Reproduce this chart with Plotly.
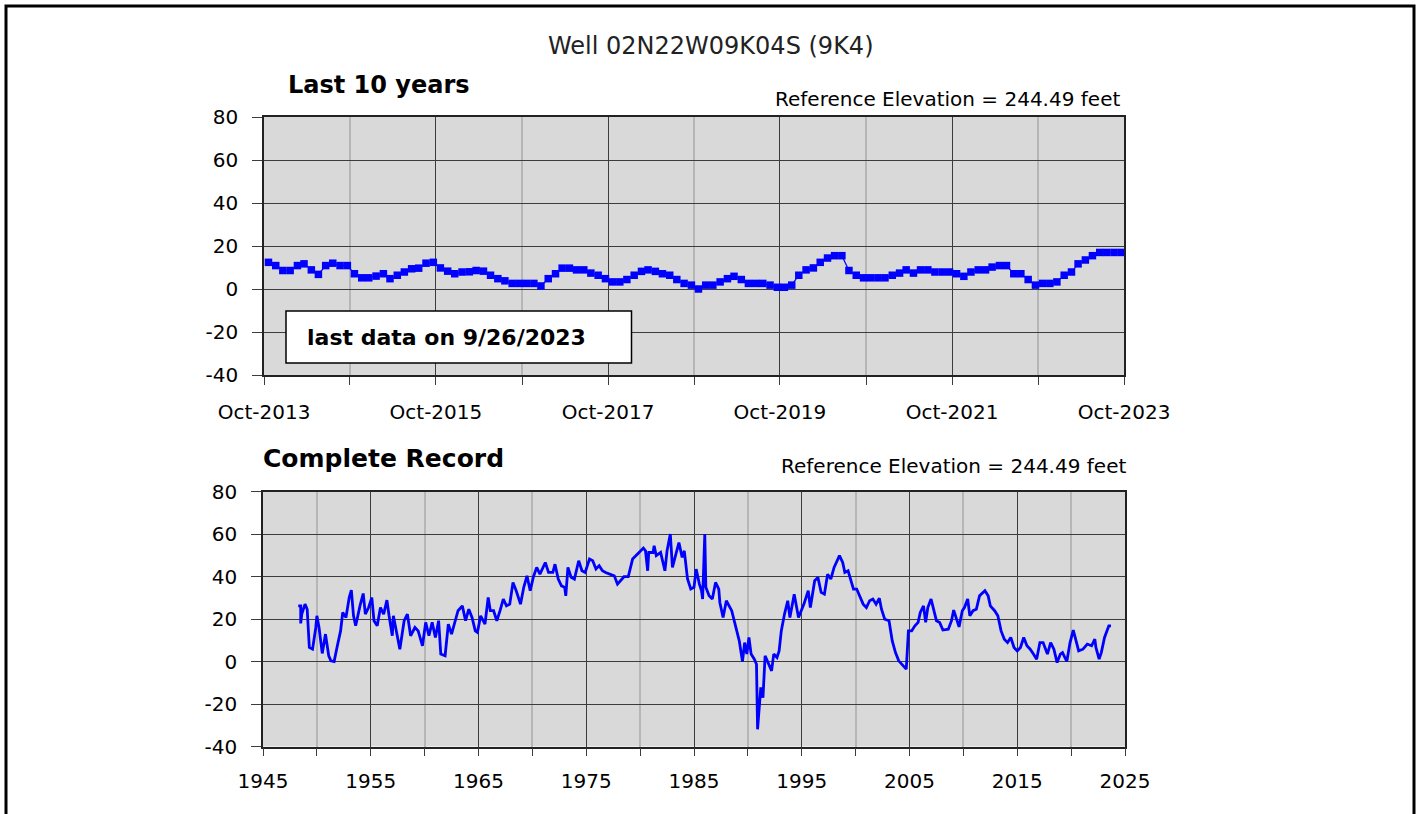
import plotly.graph_objects as go
import pandas as pd

# ---------------- data ----------------
# Last 10 years: monthly measurements Oct-2013 .. Sep-2023 (feet)
recent_dates = pd.date_range("2013-10-01", periods=120, freq="MS") + pd.Timedelta(days=19)
recent_vals = [
    12.4, 10.9, 8.6, 8.6, 10.9, 11.7, 8.9, 6.8, 10.9, 12.0, 10.9, 10.9,
    7.1, 5.2, 5.2, 6.0, 7.1, 4.8, 6.4, 7.9, 9.4, 9.7, 12.0, 12.4,
    9.8, 8.3, 7.1, 7.9, 8.0, 8.6, 8.3, 6.4, 4.8, 3.8, 2.6, 2.6,
    2.6, 2.6, 1.4, 4.8, 7.1, 9.7, 9.7, 8.9, 8.9, 7.4, 6.4, 4.8,
    3.3, 3.3, 4.4, 6.4, 8.2, 8.9, 8.2, 7.1, 6.4, 4.4, 2.6, 1.8,
    0.0, 1.8, 1.8, 3.3, 4.8, 5.9, 4.4, 2.6, 2.6, 2.6, 1.8, 0.8,
    0.8, 1.8, 6.4, 8.9, 9.8, 12.4, 14.4, 15.5, 15.5, 8.6, 6.4, 5.2,
    5.2, 5.2, 5.2, 6.4, 7.4, 8.9, 7.4, 8.9, 8.9, 7.9, 7.9, 7.9,
    7.1, 5.9, 7.9, 8.9, 8.9, 10.2, 10.9, 10.9, 7.1, 7.1, 4.4, 1.8,
    2.6, 2.6, 3.3, 6.4, 7.9, 11.7, 13.5, 15.5, 17.0, 17.0, 17.0, 17.0,
]

# Complete record (decimal year, feet)
record_years = [
    1948.27, 1948.5, 1948.5, 1948.6, 1948.9, 1949.1, 1949.3, 1949.6, 1949.9, 1950.0,
    1950.2, 1950.5, 1950.8, 1951.1, 1951.3, 1951.6, 1951.9, 1952.2, 1952.4, 1952.7,
    1953.0, 1953.2, 1953.4, 1953.6, 1954.0, 1954.3, 1954.5, 1954.8, 1955.1, 1955.3,
    1955.6, 1955.9, 1956.2, 1956.5, 1956.7, 1957.0, 1957.1, 1957.4, 1957.7, 1958.1,
    1958.4, 1958.7, 1959.1, 1959.4, 1959.8, 1960.1, 1960.4, 1960.7, 1961.0, 1961.3,
    1961.5, 1961.9, 1962.2, 1962.5, 1962.8, 1963.1, 1963.5, 1963.8, 1964.1, 1964.4,
    1964.7, 1964.9, 1965.2, 1965.6, 1965.9, 1966.1, 1966.4, 1966.7, 1967.0, 1967.3,
    1967.6, 1967.9, 1968.2, 1968.5, 1968.9, 1969.2, 1969.5, 1969.8, 1970.1, 1970.4,
    1970.7, 1971.2, 1971.5, 1971.9, 1972.1, 1972.4, 1972.7, 1973.0, 1973.1, 1973.3,
    1973.6, 1973.9, 1974.3, 1974.6, 1974.9, 1975.3, 1975.6, 1975.9, 1976.2, 1976.5,
    1976.8, 1977.3, 1977.6, 1977.9, 1978.2, 1978.5, 1978.9, 1979.0, 1979.3, 1979.9,
    1980.3, 1980.5, 1980.7, 1980.8, 1981.2, 1981.3, 1981.5, 1981.9, 1982.3, 1982.5,
    1982.8, 1983.0, 1983.3, 1983.6, 1983.9, 1984.1, 1984.4, 1984.7, 1985.0, 1985.2,
    1985.5, 1985.7, 1985.8, 1986.0, 1986.1, 1986.4, 1986.7, 1987.0, 1987.3, 1987.4,
    1987.7, 1988.0, 1988.5, 1988.8, 1989.2, 1989.5, 1989.7, 1989.9, 1990.1, 1990.3,
    1990.6, 1990.8, 1990.9, 1991.2, 1991.4, 1991.6, 1991.9, 1992.2, 1992.4, 1992.7,
    1992.9, 1993.1, 1993.4, 1993.7, 1993.9, 1994.3, 1994.7, 1995.2, 1995.6, 1995.8,
    1996.2, 1996.5, 1996.8, 1997.1,
    1997.4, 1997.7, 1998.0, 1998.5, 1998.8, 1999.0, 1999.3, 1999.5, 1999.8, 2000.1,
    2000.4, 2000.7, 2001.0, 2001.3, 2001.6, 2001.9, 2002.2, 2002.4, 2002.7, 2003.1,
    2003.4, 2003.7, 2004.0, 2004.4, 2004.7, 2004.9, 2005.2, 2005.5, 2005.8, 2006.0,
    2006.3, 2006.5, 2006.7, 2007.0, 2007.3, 2007.5, 2007.8, 2008.1, 2008.6, 2008.9,
    2009.1, 2009.3, 2009.6, 2009.9, 2010.1, 2010.4, 2010.6, 2010.9, 2011.2, 2011.5,
    2011.8, 2012.0, 2012.3, 2012.5, 2012.9, 2013.2, 2013.5, 2013.8, 2014.1, 2014.4,
    2014.7, 2015.0, 2015.3, 2015.6, 2015.9, 2016.2, 2016.5, 2016.8, 2017.1, 2017.4,
    2017.8, 2018.1, 2018.4, 2018.7, 2019.0, 2019.2, 2019.6, 2019.9, 2020.2, 2020.4,
    2020.7, 2021.1, 2021.5, 2021.9, 2022.2, 2022.3, 2022.6, 2022.8, 2023.1, 2023.5,
    2023.7,
]
record_vals = [
    26.2, 26.2, 17.9, 22.3, 27.0, 24.6, 6.6, 5.8, 16.0, 21.5,
    16.0, 3.8, 12.9, 2.7, 0.3, 0.0, 7.4, 14.4, 23.1, 20.7,
    30.1, 33.6, 21.5, 16.8, 26.2, 32.0, 22.3, 25.4, 30.1, 19.2,
    16.8, 25.4, 22.3, 28.9, 21.5, 12.1, 21.5, 14.4, 5.8, 19.2,
    22.3, 12.1, 16.0, 14.4, 7.4, 18.4, 12.1, 18.4, 11.3, 19.2,
    3.5, 2.7, 17.6, 12.9, 18.4, 23.9, 26.2, 19.2, 24.6, 20.7,
    14.4, 13.7, 21.5, 17.6, 30.1, 23.9, 23.9, 19.2, 23.9, 29.4,
    26.2, 27.0, 37.2, 33.3, 27.0, 34.9, 40.3, 33.3, 39.9, 44.3,
    41.1, 46.6, 41.9, 41.9, 45.8, 38.8, 35.6, 34.9, 30.9, 44.3,
    39.6, 38.8, 47.4, 42.7, 41.9, 48.2, 47.4, 43.5, 45.1, 42.7,
    41.9, 41.1, 40.3, 36.4, 38.0, 39.9, 39.9, 41.9, 48.2, 51.3,
    53.4, 52.1, 42.7, 51.3, 51.3, 54.5, 49.8, 51.3, 42.7, 52.1,
    60.0, 44.3, 49.8, 56.0, 49.0, 52.1, 38.8, 34.1, 34.9, 43.5,
    36.4, 33.3, 29.4, 60.0, 34.9, 30.9, 29.4, 37.2, 34.1, 27.8,
    20.7, 28.6, 23.9, 17.6, 9.7, 0.0, 8.9, 3.5, 11.3, 3.5,
    1.1, -1.3, -31.9, -12.2, -17.0, 2.7, -0.5, -4.4, 3.5, 1.9,
    5.0, 14.4, 22.3, 28.6, 20.7, 31.7, 20.7, 27.0, 33.3, 25.4,
    38.0, 39.6, 32.5, 31.7,
    41.1, 38.8, 44.3, 49.8, 46.6, 41.9, 42.7, 39.3, 34.1, 34.1,
    30.9, 27.0, 25.4, 28.6, 29.4, 27.0, 29.8, 24.6, 19.9, 19.2,
    9.7, 4.2, 0.3, -2.0, -3.6, 14.4, 14.4, 16.8, 18.4, 23.1,
    26.2, 18.4, 25.4, 29.4, 23.9, 19.2, 18.4, 14.8, 15.2, 19.2,
    24.2, 20.7, 16.3, 23.9, 25.4, 29.4, 21.5, 23.9, 24.6, 30.9,
    32.5, 33.3, 30.9, 26.2, 23.9, 21.5, 14.4, 10.5, 8.9, 11.3,
    6.6, 5.0, 6.6, 11.3, 7.4, 5.8, 3.5, 1.1, 8.9, 8.9,
    3.5, 8.9, 5.8, -0.5, 3.5, 4.2, 0.0, 8.9, 14.8, 10.5,
    5.0, 5.8, 8.2, 7.4, 10.5, 6.6, 1.1, 4.2, 11.3, 16.8,
    16.8,
]
assert len(record_years) == len(record_vals), (len(record_years), len(record_vals))
assert len(recent_vals) == len(recent_dates)

y_ticks = [-40, -20, 0, 20, 40, 60, 80]
y_ticktext = ["-40", "-20", "0", "20", "40", "60", "80"]
recent_major_years = [2013, 2015, 2017, 2019, 2021, 2023]
recent_minor_years = [2014, 2016, 2018, 2020, 2022]
record_major_years = [1945, 1955, 1965, 1975, 1985, 1995, 2005, 2015, 2025]
record_minor_years = [1950, 1960, 1970, 1980, 1990, 2000, 2010, 2020]

title_text = "Well 02N22W09K04S (9K4)"
ref_text = "Reference Elevation = 244.49 feet"
last_text = "last data on 9/26/2023"

# ---------------- layout helpers ----------------
W, H = 1421, 814
def px(x):
    return x / W
def py(y):
    return 1 - y / H

FONT = "DejaVu Sans"
BLUE = "#0000FF"
DARK = "#3c3c3c"
LIGHT = "#b6b6b6"

fig = go.Figure()
fig.add_trace(go.Scatter(
    x=recent_dates, y=recent_vals, mode="lines+markers",
    line=dict(color=BLUE, width=1.2),
    marker=dict(symbol="square", size=7.5, color=BLUE, line=dict(width=0)),
    xaxis="x", yaxis="y", showlegend=False, cliponaxis=False,
))
fig.add_trace(go.Scatter(
    x=record_years, y=record_vals, mode="lines",
    line=dict(color=BLUE, width=2.8),
    xaxis="x2", yaxis="y2", showlegend=False,
))

tickfont = dict(family=FONT, size=20, color="black")

def yaxis_common(domain, anchor):
    return dict(
        domain=domain, anchor=anchor, range=[-40, 80], automargin=False,
        tickmode="array", tickvals=y_ticks, ticktext=y_ticktext,
        showgrid=True, gridcolor=DARK, gridwidth=1.3, zeroline=False,
        ticks="outside", ticklen=10, tickcolor=DARK, tickwidth=1.3,
        showline=True, mirror=True, linecolor="#222222", linewidth=1.5,
        tickfont=tickfont, ticklabelstandoff=10, fixedrange=True,
    )

fig.update_layout(
    template="none",
    width=W, height=H, autosize=False,
    margin=dict(l=0, r=0, t=0, b=0, pad=0, autoexpand=False),
    paper_bgcolor="white", plot_bgcolor="#D9D9D9",
    xaxis=dict(
        domain=[px(264), px(1124)], anchor="y", type="date", automargin=False,
        range=["2013-10-01", "2023-10-01"],
        tickmode="array",
        tickvals=[f"{yr}-10-01" for yr in recent_major_years],
        ticktext=[f"Oct-{yr}" for yr in recent_major_years],
        showgrid=True, gridcolor=DARK, gridwidth=1.3, zeroline=False,
        ticks="outside", ticklen=8, tickcolor=DARK, tickwidth=1.3,
        minor=dict(tickmode="array",
                   tickvals=[f"{yr}-10-01" for yr in recent_minor_years],
                   showgrid=True, gridcolor=LIGHT, gridwidth=2,
                   ticks="outside", ticklen=8, tickcolor=DARK),
        showline=True, mirror=True, linecolor="#222222", linewidth=1.5,
        tickfont=tickfont, ticklabelstandoff=10,
    ),
    yaxis=yaxis_common([py(375), py(117)], "x"),
    xaxis2=dict(
        domain=[px(263), px(1125)], anchor="y2", automargin=False,
        range=[1945, 2025],
        tickmode="array", tickvals=record_major_years,
        ticktext=[str(v) for v in record_major_years],
        showgrid=True, gridcolor=DARK, gridwidth=1.3, zeroline=False,
        ticks="outside", ticklen=8, tickcolor=DARK, tickwidth=1.3,
        minor=dict(tickmode="array", tickvals=record_minor_years,
                   showgrid=True, gridcolor=LIGHT, gridwidth=2,
                   ticks="outside", ticklen=8, tickcolor=DARK),
        showline=True, mirror=True, linecolor="#222222", linewidth=1.5,
        tickfont=tickfont, ticklabelstandoff=8,
    ),
    yaxis2=yaxis_common([py(746.5), py(491.5)], "x2"),
    shapes=[
        dict(type="rect", xref="paper", yref="paper",
             x0=px(286), x1=px(631.5), y0=py(363), y1=py(311),
             fillcolor="white", line=dict(color="black", width=1.5), layer="above"),
        dict(type="rect", xref="paper", yref="paper",
             x0=px(6), x1=px(1414), y0=-0.05, y1=py(6),
             fillcolor="rgba(0,0,0,0)", line=dict(color="black", width=3), layer="above"),
    ],
    annotations=[
        dict(text=title_text, xref="paper", yref="paper", x=px(711), y=py(46),
             xanchor="center", yanchor="middle", showarrow=False,
             font=dict(family=FONT, size=24, color="#222222")),
        dict(text="<b>Last 10 years</b>", xref="paper", yref="paper", x=px(286), y=py(85),
             xanchor="left", yanchor="middle", showarrow=False,
             font=dict(family=FONT, size=24, color="black")),
        dict(text=ref_text, xref="paper", yref="paper", x=px(1122), y=py(99),
             xanchor="right", yanchor="middle", showarrow=False,
             font=dict(family=FONT, size=20, color="black")),
        dict(text="<b>Complete Record</b>", xref="paper", yref="paper", x=px(261), y=py(458),
             xanchor="left", yanchor="middle", showarrow=False,
             font=dict(family=FONT, size=25, color="black")),
        dict(text=ref_text, xref="paper", yref="paper", x=px(1128), y=py(466),
             xanchor="right", yanchor="middle", showarrow=False,
             font=dict(family=FONT, size=20, color="black")),
        dict(text="<b>" + last_text + "</b>", xref="paper", yref="paper", x=px(305), y=py(337),
             xanchor="left", yanchor="middle", showarrow=False,
             font=dict(family=FONT, size=22, color="black")),
    ],
)

fig.write_html(
    "out.html",
    config={"displayModeBar": False},
    post_script="document.body.style.margin='0';document.body.style.overflow='hidden';",
)
